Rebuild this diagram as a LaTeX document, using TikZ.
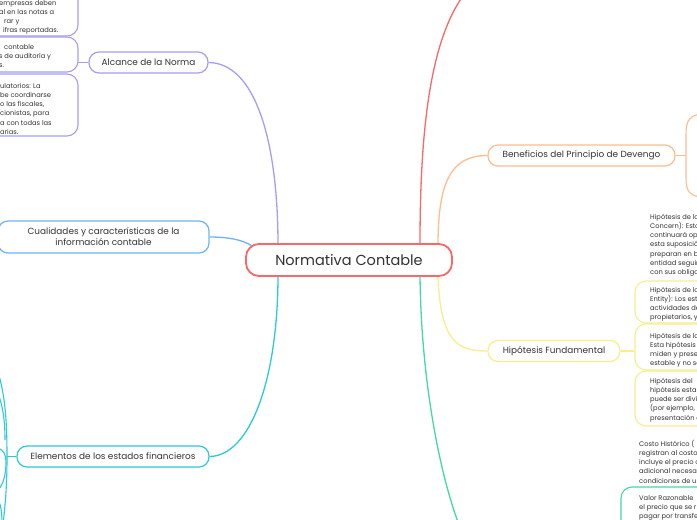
\documentclass[tikz,border=0pt]{standalone}
\usepackage{fontspec}
\setmainfont{Poppins}
\usetikzlibrary{calc,backgrounds}
\definecolor{cred}{HTML}{F86868}
\definecolor{cpurple}{HTML}{A79DF6}
\definecolor{cblue}{HTML}{6DB5F2}
\definecolor{corange}{HTML}{FFBC8C}
\definecolor{cyellow}{HTML}{F8EE8E}
\definecolor{ccyan}{HTML}{2CCAD8}
\definecolor{cgreen}{HTML}{44D8A8}
\definecolor{ctxt}{HTML}{333333}
\tikzset{
  topic/.style={draw, fill=white, rounded corners=10pt, line width=1.2pt, inner sep=0pt,
    text=ctxt, font=\fontsize{8.9}{11}\selectfont, align=center, minimum height=21pt},
  central/.style={draw=cred, fill=white, rounded corners=13pt, line width=1.8pt, inner sep=0pt,
    text=ctxt, font=\fontsize{14.5}{16}\selectfont, minimum width=206pt, minimum height=32pt},
  conn/.style={line width=1.3pt},
  bracket/.style={line width=1.1pt},
  childbox/.style={draw, rounded corners=11pt, line width=1.1pt},
  childtext/.style={text=ctxt, font=\fontsize{6.7}{9.25}\selectfont, align=left, inner sep=0pt, anchor=base west}
}
\begin{document}
\begin{tikzpicture}[x=1pt,y=-1pt]
\useasboundingbox (0,0) rectangle (697,520);
\clip (0,0) rectangle (697,520);

% off-canvas ends
\coordinate (redend) at (466,-8);
\coordinate (greenend) at (463,535);

% main topics
\node[central] (cen) at (349,260) {Normativa Contable};
\node[topic, draw=cpurple, minimum width=119pt] (alc) at (148.5,62.5) {Alcance de la Norma};
\node[topic, draw=corange, minimum width=187pt] (ben) at (581.5,155.5) {Beneficios del Principio de Devengo};
\node[topic, draw=cyellow, minimum width=132pt] (hip) at (554,351) {Hipótesis Fundamental};
\node[topic, draw=cblue, minimum width=211pt, minimum height=32pt] (cua) at (103.5,237) {Cualidades y características de la\\información contable};
\node[topic, draw=ccyan, minimum width=192pt] (ele) at (113,456.5) {Elementos de los estados financieros};

% main connectors (behind the topics)
\begin{scope}[on background layer]
\fill[white] (0,0) rectangle (697,520);
\draw[conn, cpurple] (alc.east) .. controls (255,63) and (278,140) .. ($(cen.north)+(-71,2)$);
\draw[conn, cblue] (cua.east) .. controls (232,237) and (248,241) .. ($(cen.west)+(12,-10)$);
\draw[conn, ccyan] (ele.east) .. controls (250,456) and (278,380) .. ($(cen.south)+(-71,-2)$);
\draw[conn, cred] ($(cen.north)+(71,2)$) .. controls (420,140) and (428,40) .. (redend);
\draw[conn, corange] ($(cen.north)+(89,2)$) .. controls (438,180) and (452,155.5) .. (ben.west);
\draw[conn, cyellow] ($(cen.south)+(89,-2)$) .. controls (440,345) and (460,351) .. (hip.west);
\draw[conn, cgreen] ($(cen.south)+(71,-2)$) .. controls (421,380) and (440,480) .. (greenend);
\end{scope}

% ---- Alcance children (left, clipped) ----
\coordinate (alcbr) at (78,62.5);
\draw[bracket, cpurple] (alc.west) -- (alcbr);
\draw[childbox, cpurple] (-80,-30) rectangle (78,36);
\draw[childbox, cpurple] (-80,37) rectangle (78,72);
\draw[childbox, cpurple] (-80,74) rectangle (78,136);
\node[childtext] (a1) at (-1,32.75) {empresas deben\\al en las notas a\\\hspace*{5pt}rar y\\\hspace*{4pt}ifras reportadas.};
\node[childtext] (a2) at (-1,67.5) {\hspace*{5pt}contable\\s de auditoría y\\s.};
\node[childtext] (a3) at (0,134.25) {ulatorios: La\\be coordinarse\\o las fiscales,\\cionistas, para\\a con todas las\\arias.};

% ---- Beneficios bracket (right) ----
\coordinate (benbr) at (686,155.5);
\draw[bracket, corange] (ben.east) -- (benbr);
\draw[bracket, corange] (705,114) .. controls (690,114) and (686,120) .. (686,134) -- (686,178) .. controls (686,192) and (690,197) .. (705,197);

% ---- Hipotesis children (right, clipped) ----
\coordinate (hipbr) at (634,351);
\draw[bracket, cyellow] (hip.east) -- (hipbr);
\draw[childbox, cyellow] (635,281) rectangle (780,323);
\draw[childbox, cyellow] (635,324) rectangle (780,370);
\draw[childbox, cyellow] (635,371) rectangle (780,426);
\node[childtext] (h1) at (650,274.5) {Hipótesis de la\\Concern): Esto\\continuará ope\\esta suposición\\preparan en ba\\entidad seguir\\con sus obligac};
\node[childtext] (h2) at (650,319.75) {Hipótesis de la\\Entity): Los est\\actividades de\\propietarios, y};
\node[childtext] (h3) at (650,365.75) {Hipótesis de la\\Esta hipótesis\\miden y prese\\estable y no se};
\node[childtext] (h4) at (650,420) {Hipótesis del\\hipótesis esta\\puede ser divi\\(por ejemplo,\\presentación d};

% ---- green children (bottom right) ----
\draw[childbox, cgreen] (621,487) rectangle (780,570);
\node[childtext] (g1) at (639,483) {Costo Histórico (\\registran al costo\\incluye el precio c\\adicional necesar\\condiciones de us};
\node[childtext] (g2) at (639,518.5) {Valor Razonable\\el precio que se r\\pagar por transfe};

% ---- Elementos bracket (left) ----
\coordinate (elebr) at (7,456.5);
\draw[bracket, ccyan] (ele.west) -- (elebr);
\draw[bracket, ccyan] (-2,372) .. controls (5,395) and (7,420) .. (elebr) .. controls (7,490) and (5,505) .. (3,525);
\draw[bracket, ccyan] (-2,393) .. controls (4,410) and (5,425) .. (5,440);
\draw[bracket, ccyan] (-2,448) .. controls (4,450) and (6,455) .. (6,462) .. controls (6,475) and (3,485) .. (-2,490);
\draw[bracket, ccyan] (-2,500) .. controls (1,505) and (2,512) .. (2,525);
\end{tikzpicture}
\end{document}
